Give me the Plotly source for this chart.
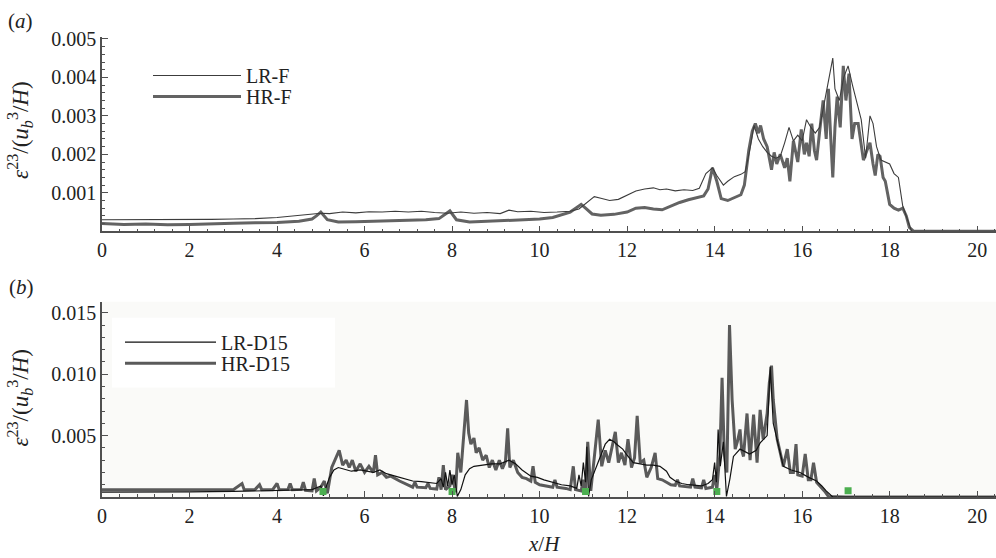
import numpy as np
import plotly.graph_objects as go
from plotly.subplots import make_subplots

# ---------------- data (epsilon values in units of 1e-3) ----------------
lr_f_x = [0, 0.5, 1, 1.5, 2, 2.5, 3, 3.5, 4, 4.5, 4.8, 5.0, 5.2,
          5.5, 5.8, 6.1, 6.4, 6.7, 7.0, 7.3, 7.6, 7.9, 8.2,
          8.5, 8.8, 9.1, 9.3, 9.5, 9.8, 10.1, 10.4, 10.7, 10.9,
          11.1, 11.25, 11.4, 11.6, 11.8, 12.0, 12.2, 12.4, 12.6, 12.75,
          12.9, 13.1, 13.3, 13.5, 13.65, 13.8, 13.95, 14.05, 14.2, 14.3,
          14.45, 14.6, 14.7, 14.8, 14.9, 15.0, 15.1, 15.2, 15.3, 15.4,
          15.5, 15.6, 15.7, 15.8, 15.9, 16.0, 16.1, 16.2, 16.3, 16.4,
          16.5, 16.6, 16.7, 16.75, 16.85, 16.95, 17.05, 17.15, 17.25, 17.35,
          17.45, 17.55, 17.62, 17.7, 17.8, 17.9, 18.0, 18.1, 18.2, 18.3,
          18.4, 18.5, 19, 20.5]
lr_f_eps = [0.30, 0.30, 0.30, 0.30, 0.31, 0.31, 0.32, 0.33, 0.36, 0.41, 0.45, 0.47, 0.46,
            0.50, 0.48, 0.51, 0.50, 0.52, 0.50, 0.52, 0.49, 0.47, 0.50,
            0.47, 0.49, 0.46, 0.55, 0.51, 0.52, 0.49, 0.50, 0.52, 0.58,
            0.75, 0.90, 0.86, 0.80, 0.83, 0.95, 1.05, 1.10, 1.13, 1.08,
            1.10, 1.05, 1.08, 1.06, 1.12, 1.50, 1.65, 1.45, 1.20, 1.30,
            1.42, 1.48, 1.55, 2.10, 2.75, 2.40, 2.20, 2.05, 1.95, 1.90,
            1.95, 2.30, 2.70, 2.35, 2.50, 2.35, 2.90, 2.70, 2.55, 2.70,
            3.30, 3.90, 4.50, 3.70, 3.40, 4.00, 4.30, 3.80, 3.35, 2.90,
            1.90, 3.00, 2.80, 2.20, 1.85, 1.80, 1.75, 1.50, 1.40, 0.65,
            0.30, 0.00, 0.00, 0.00]

hr_f_x = [0, 0.5, 1.0, 1.5, 2.0, 2.5, 3.0, 3.5, 4.0, 4.5,
          4.8, 4.9, 5.0, 5.15, 5.4, 5.8, 6.2, 6.6, 7.0, 7.4,
          7.7, 7.85, 7.95, 8.1, 8.4, 8.8, 9.2, 9.6, 10.0, 10.3,
          10.5, 10.7, 10.85, 10.95, 11.05, 11.2, 11.4, 11.7, 12.0, 12.2,
          12.4, 12.6, 12.8, 13.0, 13.2, 13.4, 13.6, 13.75, 13.85, 13.95,
          14.05, 14.15, 14.3, 14.45, 14.6, 14.68, 14.78, 14.86, 14.93, 15.0,
          15.05, 15.12, 15.2, 15.3, 15.36, 15.42, 15.5, 15.6, 15.66, 15.72,
          15.8, 15.9, 15.98, 16.05, 16.1, 16.16, 16.22, 16.28, 16.33, 16.4,
          16.48, 16.55, 16.6, 16.65, 16.7, 16.75, 16.8, 16.87, 16.94, 17.0,
          17.07, 17.14, 17.2, 17.28, 17.35, 17.4, 17.48, 17.55, 17.62, 17.67,
          17.73, 17.78, 17.85, 17.9, 18.0, 18.1, 18.2, 18.3, 18.38, 18.45,
          18.55, 19, 20.5]
hr_f_eps = [0.20, 0.18, 0.19, 0.17, 0.18, 0.20, 0.21, 0.22, 0.23, 0.26,
            0.32, 0.40, 0.50, 0.30, 0.24, 0.25, 0.26, 0.28, 0.28, 0.30,
            0.33, 0.45, 0.53, 0.30, 0.24, 0.26, 0.28, 0.30, 0.32, 0.36,
            0.42, 0.50, 0.62, 0.70, 0.60, 0.45, 0.42, 0.44, 0.50, 0.60,
            0.62, 0.58, 0.56, 0.66, 0.75, 0.82, 0.88, 0.92, 1.10, 1.65,
            1.30, 0.85, 0.80, 0.88, 0.95, 1.20, 2.10, 2.60, 2.80, 2.55,
            2.75, 2.40, 2.20, 1.60, 2.05, 1.75, 2.00, 1.65, 1.90, 1.30,
            2.35, 1.80, 2.65, 2.00, 2.30, 1.95, 2.80, 2.10, 1.85, 2.60,
            3.40, 2.40, 3.70, 2.50, 1.40, 2.70, 3.50, 2.70, 4.30, 3.40,
            4.10, 2.40, 2.80, 2.80, 2.30, 1.85, 2.10, 2.30, 1.75, 1.45,
            2.00, 1.95, 1.40, 1.30, 0.70, 0.60, 0.55, 0.60, 0.40, 0.10,
            0.00, 0.00, 0.00]

lr_d15_x = [0, 1.0, 2.0, 3.0, 4.0, 4.5, 4.8, 5.0, 5.06, 5.12,
            5.2, 5.3, 5.4, 5.5, 5.7, 5.9, 6.05, 6.2, 6.35, 6.5,
            6.7, 6.9, 7.1, 7.3, 7.5, 7.65, 7.75, 7.8, 7.85, 7.9,
            7.95, 8.0, 8.05, 8.12, 8.2, 8.3, 8.4, 8.5, 8.7, 8.9,
            9.1, 9.3, 9.45, 9.6, 9.8, 9.95, 10.1, 10.3, 10.5, 10.7,
            10.85, 10.9, 10.95, 11.0, 11.05, 11.08, 11.12, 11.18, 11.3, 11.38,
            11.5, 11.6, 11.7, 11.76, 11.9, 12.0, 12.14, 12.3, 12.45, 12.6,
            12.75, 12.9, 12.98, 13.1, 13.25, 13.4, 13.55, 13.7, 13.85, 13.95,
            14.0, 14.04, 14.08, 14.13, 14.2, 14.27, 14.35, 14.43, 14.58, 14.8,
            14.95, 15.04, 15.2, 15.27, 15.34, 15.43, 15.57, 15.75, 15.95, 16.15,
            16.33, 16.45, 16.55, 16.7, 17.0, 20.5]
lr_d15_eps = [0.40, 0.38, 0.42, 0.45, 0.50, 0.55, 0.60, 0.90, 0.10, 0.80,
              1.60, 2.20, 2.40, 2.30, 2.10, 2.20, 2.10, 2.00, 2.20, 1.90,
              1.70, 1.50, 1.30, 1.25, 1.15, 1.10, 1.50, 0.80, 2.00, 0.90,
              2.20, 1.00, 1.80, 0.05, 0.60, 1.80, 2.30, 2.50, 2.60, 2.70,
              2.70, 3.00, 2.70, 2.20, 1.70, 1.60, 1.40, 1.20, 1.00, 0.90,
              0.70, 1.80, 0.90, 2.80, 1.20, 4.10, 0.05, 1.40, 2.50, 3.30,
              4.30, 4.70, 4.50, 4.30, 3.90, 3.40, 2.80, 2.70, 2.60, 2.60,
              2.50, 2.10, 1.60, 1.30, 1.10, 1.00, 0.95, 0.90, 1.10, 1.40,
              2.80, 1.20, 5.50, 2.50, 4.50, 0.05, 1.50, 3.30, 3.90, 3.50,
              3.80, 4.40, 5.00, 10.60, 6.00, 4.70, 2.50, 2.20, 2.00, 1.60,
              1.30, 0.90, 0.50, 0.00, 0.00, 0.00]

hr_d15_x = [0, 0.5, 1.0, 1.5, 2.0, 2.5, 3.0, 3.2, 3.25, 3.5,
            3.6, 3.65, 3.9, 4.0, 4.05, 4.25, 4.3, 4.35, 4.55, 4.6,
            4.65, 4.8, 4.85, 4.9, 5.0, 5.08, 5.15, 5.25, 5.35, 5.42,
            5.5, 5.58, 5.65, 5.72, 5.8, 5.9, 6.0, 6.1, 6.2, 6.25,
            6.3, 6.4, 6.5, 6.6, 6.8, 7.0, 7.1, 7.15, 7.2, 7.4,
            7.45, 7.5, 7.65, 7.7, 7.75, 7.8, 7.85, 7.95, 8.0, 8.08,
            8.13, 8.2, 8.27, 8.33, 8.38, 8.43, 8.5, 8.55, 8.62, 8.7,
            8.78, 8.85, 8.92, 9.0, 9.08, 9.15, 9.22, 9.27, 9.32, 9.4,
            9.5, 9.6, 9.7, 9.8, 9.85, 9.9, 10.0, 10.2, 10.3, 10.35,
            10.4, 10.6, 10.7, 10.77, 10.82, 10.95, 11.0, 11.05, 11.1, 11.17,
            11.25, 11.34, 11.42, 11.5, 11.58, 11.66, 11.73, 11.8, 11.87, 11.95,
            12.02, 12.1, 12.17, 12.23, 12.3, 12.38, 12.45, 12.55, 12.64, 12.7,
            12.8, 12.9, 13.0, 13.1, 13.15, 13.2, 13.35, 13.45, 13.5, 13.55,
            13.7, 13.75, 13.8, 13.95, 14.0, 14.05, 14.12, 14.17, 14.22, 14.28,
            14.34, 14.4, 14.47, 14.52, 14.58, 14.62, 14.66, 14.74, 14.81, 14.89,
            14.97, 15.04, 15.11, 15.2, 15.25, 15.3, 15.34, 15.43, 15.5, 15.57,
            15.66, 15.73, 15.8, 15.86, 15.9, 16.0, 16.07, 16.14, 16.2, 16.26,
            16.33, 16.41, 16.53, 16.6, 17.0, 20.5]
hr_d15_eps = [0.60, 0.62, 0.58, 0.60, 0.60, 0.62, 0.60, 1.10, 0.60, 0.62,
              1.00, 0.60, 0.60, 1.10, 0.60, 0.62, 1.10, 0.60, 0.62, 1.20,
              0.55, 0.50, 1.50, 0.50, 0.80, 1.30, 0.30, 2.40, 3.20, 3.80,
              2.60, 3.00, 2.40, 3.00, 2.10, 2.70, 2.00, 2.50, 2.00, 3.40,
              1.80, 2.00, 1.60, 1.70, 1.30, 1.00, 0.80, 1.20, 0.80, 0.75,
              1.10, 0.70, 0.65, 1.60, 0.60, 2.60, 0.60, 0.90, 1.80, 0.40,
              3.60, 2.00, 5.50, 7.90, 5.20, 4.30, 4.80, 3.60, 4.00, 3.00,
              3.40, 2.40, 3.00, 2.20, 3.00, 2.30, 2.90, 5.60, 2.40, 3.00,
              2.00, 1.60, 1.50, 1.30, 2.50, 1.20, 1.00, 0.90, 0.80, 1.40,
              0.80, 0.70, 0.60, 2.50, 0.60, 0.50, 1.40, 0.30, 4.50, 0.50,
              3.00, 6.30, 2.50, 3.80, 2.80, 4.00, 5.30, 2.80, 3.60, 2.60,
              4.70, 2.40, 3.20, 6.60, 2.80, 3.00, 1.60, 2.40, 3.60, 1.50,
              1.40, 1.20, 1.00, 0.95, 1.40, 0.90, 0.85, 0.80, 1.50, 0.80,
              0.75, 1.40, 0.70, 0.80, 1.80, 0.60, 3.50, 9.70, 3.60, 2.00,
              14.00, 7.90, 3.90, 4.50, 5.50, 3.80, 3.30, 6.80, 3.00, 6.70,
              2.80, 7.10, 4.70, 6.80, 9.30, 10.70, 7.90, 4.70, 3.60, 2.50,
              3.90, 2.00, 2.00, 4.30, 1.80, 1.70, 3.50, 1.40, 1.40, 2.80,
              1.20, 0.90, 0.40, 0.05, 0.00, 0.00]

marker_x = [5.05, 8.0, 11.05, 14.05, 17.05]
marker_eps = [0.45, 0.45, 0.45, 0.45, 0.50]

x_ticks = [0, 2, 4, 6, 8, 10, 12, 14, 16, 18, 20]
ya_ticks = [0.001, 0.002, 0.003, 0.004, 0.005]
yb_ticks = [0.005, 0.010, 0.015]

SCALE = 1e-3
FONT = "Liberation Serif"
AX = "#505050"
TXT = "#222222"

fig = make_subplots(rows=2, cols=1, shared_xaxes=False, vertical_spacing=0.1)

# panel (a)
fig.add_trace(go.Scatter(x=hr_f_x, y=np.array(hr_f_eps) * SCALE, mode="lines",
                         name="HR-F", line=dict(color="#636363", width=3),
                         legend="legend2"), row=1, col=1)
fig.add_trace(go.Scatter(x=lr_f_x, y=np.array(lr_f_eps) * SCALE, mode="lines",
                         name="LR-F", line=dict(color="#3c3c3c", width=1.1),
                         legend="legend"), row=1, col=1)

# panel (b)
fig.add_trace(go.Scatter(x=hr_d15_x, y=np.array(hr_d15_eps) * SCALE, mode="lines",
                         name="HR-D15", line=dict(color="#5a5a5a", width=3),
                         legend="legend4"), row=2, col=1)
fig.add_trace(go.Scatter(x=lr_d15_x, y=np.array(lr_d15_eps) * SCALE, mode="lines",
                         name="LR-D15", line=dict(color="#111111", width=1.2),
                         legend="legend3"), row=2, col=1)
fig.add_trace(go.Scatter(x=marker_x, y=np.array(marker_eps) * SCALE, mode="markers",
                         marker=dict(symbol="square", size=7, color="#4caf50"),
                         showlegend=False), row=2, col=1)

axis_common = dict(showline=True, linecolor=AX, linewidth=1.5, showgrid=False,
                   zeroline=False, ticks="inside", tickcolor=AX, ticklen=6,
                   tickwidth=1.2, tickfont=dict(family=FONT, size=20, color=TXT))

xr = [0, 20.43]
fig.update_xaxes(range=xr, tickvals=x_ticks, domain=[0, 1],
                 minor=dict(ticks="inside", dtick=0.4, ticklen=3, tickcolor=AX),
                 **axis_common)
fig.update_yaxes(row=1, col=1, range=[0, 0.00505], tickvals=ya_ticks,
                 tickformat=".3f", domain=[0.5776, 1.0],
                 minor=dict(ticks="inside", dtick=0.0002, ticklen=3, tickcolor=AX),
                 **axis_common)
fig.update_yaxes(row=2, col=1, range=[0, 0.0159], tickvals=yb_ticks,
                 tickformat=".3f", domain=[0.0, 0.4245],
                 minor=dict(ticks="inside", dtick=0.001, ticklen=3, tickcolor=AX),
                 **axis_common)


def ypx(py):
    return (497.5 - py) / 460.5


def xpx(px):
    return (px - 102) / 894.0


# light background of panel (b) and whiter box behind its legend
fig.add_shape(type="rect", xref="x2 domain", yref="y2 domain", x0=0, x1=1, y0=0, y1=1,
              fillcolor="#fafaf8", line=dict(width=0), layer="below")
fig.add_shape(type="rect", xref="paper", yref="paper", x0=xpx(112), x1=xpx(335),
              y0=ypx(388), y1=ypx(318), fillcolor="#ffffff", line=dict(width=0),
              layer="below")

ytitle = "<i>ε</i><sup>23</sup>/(<i>u</i><sub><i>b</i></sub><sup>3</sup>/<i>H</i>)"
annotations = [
    dict(text=ytitle, x=xpx(20), y=ypx(130), textangle=-90, size=23),
    dict(text=ytitle, x=xpx(20), y=ypx(398), textangle=-90, size=23),
    dict(text="(<i>a</i>)", x=xpx(20), y=ypx(21), size=21),
    dict(text="(<i>b</i>)", x=xpx(21), y=ypx(287), size=21),
    dict(text="<i>x</i>/<i>H</i>", x=xpx(544), y=ypx(545), size=21),
]
for a in annotations:
    s = a.pop("size")
    a.update(xref="paper", yref="paper", showarrow=False, xanchor="center",
             yanchor="middle", font=dict(family=FONT, size=s, color=TXT))

leg_common = dict(xanchor="left", yanchor="top", bgcolor="rgba(255,255,255,0)",
                  font=dict(family=FONT, size=20, color=TXT))

fig.update_layout(
    width=996, height=558,
    margin=dict(l=102, r=0, t=37, b=60.5),
    paper_bgcolor="white", plot_bgcolor="white",
    font=dict(family=FONT, size=20, color=TXT),
    annotations=annotations,
    legend=dict(x=xpx(148), y=ypx(56), itemwidth=88, **leg_common),
    legend2=dict(x=xpx(148), y=ypx(77), itemwidth=88, **leg_common),
    legend3=dict(x=xpx(120), y=ypx(323), itemwidth=91, **leg_common),
    legend4=dict(x=xpx(120), y=ypx(344), itemwidth=91, **leg_common),
)

fig.write_html("out.html", config={"displayModeBar": False},
               post_script="document.body.style.margin='0px';")
